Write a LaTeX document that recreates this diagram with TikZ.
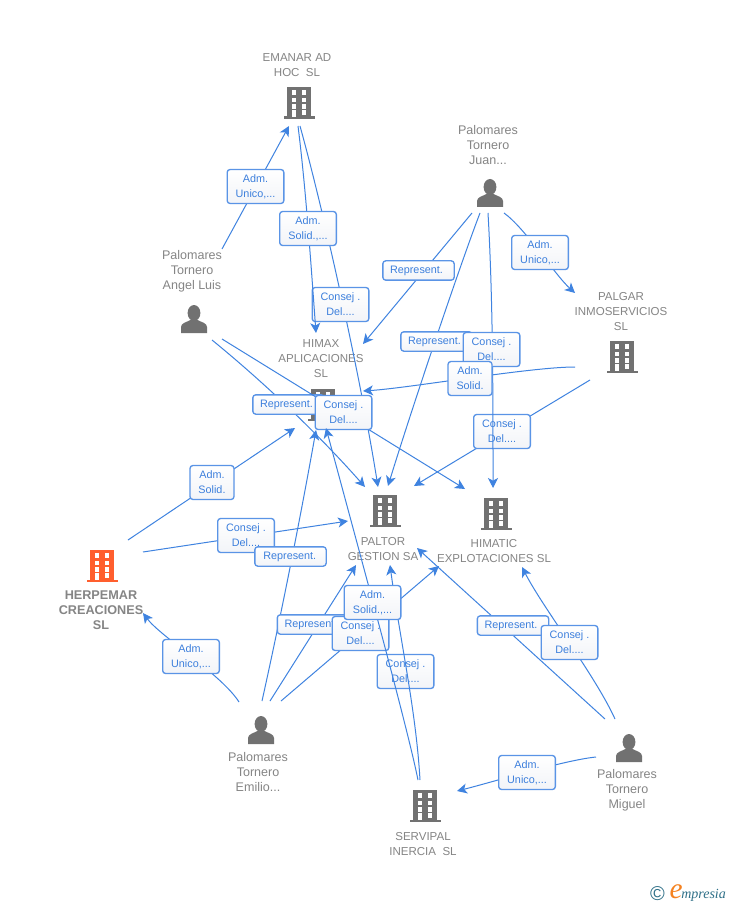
\documentclass[tikz,border=0pt]{standalone}
\usepackage{fontspec}
\setmainfont{Liberation Sans}
\newfontfamily\logoserif{Liberation Serif}
\usetikzlibrary{arrows.meta}
\definecolor{linkblue}{HTML}{3F83E0}
\definecolor{boxedge}{HTML}{5A94E6}
\definecolor{labtext}{HTML}{3C7FDC}
\definecolor{boxlow}{HTML}{F2F4F8}
\definecolor{entgrey}{HTML}{858585}
\definecolor{icongrey}{HTML}{717171}
\definecolor{hiorange}{HTML}{FF5F2E}
\definecolor{logoteal}{HTML}{2F7088}
\definecolor{logoorange}{HTML}{F58220}
\tikzset{
  x=0.75pt,y=-0.75pt,
  link/.style={draw=linkblue,line width=0.75pt,-{Stealth[length=7.5pt,width=7.5pt,inset=2pt]}},
  lab/.style={draw=boxedge,line width=1pt,rounded corners=2.2pt,top color=white,bottom color=boxlow,
    text=labtext,font=\fontsize{8.1}{11.25}\selectfont,align=center,inner sep=0pt,minimum width=#1},
  labA/.style={lab=42.5pt,minimum height=25.5pt},
  labS/.style={lab=33pt,minimum height=25.5pt},
  labR/.style={lab=53.5pt,minimum height=14.5pt},
  ent/.style={text=entgrey,font=\fontsize{8.65}{11.25}\selectfont,align=center,inner sep=0pt},
  entb/.style={text=entgrey,font=\bfseries\fontsize{9.5}{11.25}\selectfont,align=center,inner sep=0pt},
  pers/.style={text=entgrey,font=\fontsize{9.4}{11.25}\selectfont,align=center,inner sep=0pt},
  pics/bld/.style={code={
    \fill[#1] (-12,-16) rectangle (12,14);
    \fill[#1] (-15.5,13.5) rectangle (15.5,16);
    \foreach \yy/\zz in {-12.7/-8.3,-5.3/-1,1.3/5.7}{
      \fill[white] (-7.3,\yy) rectangle (-2.7,\zz);
      \fill[white] (2.7,\yy) rectangle (7.3,\zz);
    }
    \fill[white] (-7.3,7.3) rectangle (-2.7,14);
    \fill[white] (2.7,7.3) rectangle (7.3,12);
  }},
  pics/man/.style={code={
    \fill[icongrey] (0,-6) ellipse [x radius=4.8pt,y radius=6pt];
    \fill[icongrey] (-13,14) -- (-13,8) .. controls (-13,4) and (-7,3) .. (-3.5,1) -- (3.5,1)
      .. controls (7,3) and (13,4) .. (13,8) -- (13,14) -- cycle;
  }},
}
\begin{document}
\begin{tikzpicture}
\useasboundingbox (0,0) rectangle (728,905);
\fill[white] (0,0) rectangle (728,905);

% icons
\pic at (299,103) {bld=icongrey};
\pic at (622,357) {bld=icongrey};
\pic at (323,405) {bld=icongrey};
\pic at (385,511) {bld=icongrey};
\pic at (496,514) {bld=icongrey};
\pic at (102,566) {bld=hiorange};
\pic at (425,806) {bld=icongrey};
\pic at (490,193) {man};
\pic at (194,319) {man};
\pic at (261,730) {man};
\pic at (629,748) {man};

% entity names
\node[ent] (emanar) at (297,65) {EMANAR AD\\HOC\ \ SL};
\node[pers] (juan) at (488,145) {Palomares\\Tornero\\Juan...};
\node[pers] (angel) at (192,271) {Palomares\\Tornero\\Angel Luis};
\node[ent] (himax) at (321,359) {HIMAX\\APLICACIONES\\SL};
\node[ent] (palgar) at (621,311.5) {PALGAR\\INMOSERVICIOS\\SL};
\node[ent] (paltor) at (383,549) {PALTOR\\GESTION SA};
\node[ent] (himatic) at (494,551) {HIMATIC\\EXPLOTACIONES SL};
\node[entb] (herpemar) at (101,610.5) {HERPEMAR\\CREACIONES\\SL};
\node[pers] (emilio) at (258,772) {Palomares\\Tornero\\Emilio...};
\node[pers] (miguel) at (627,790) {Palomares\\Tornero\\Miguel};
\node[ent] (servipal) at (423,844) {SERVIPAL\\INERCIA\ \ SL};

% connector ends
\coordinate (emA) at (289,126); \coordinate (emB) at (298,126); \coordinate (emC) at (300,126);
\coordinate (anA) at (222,249); \coordinate (anB) at (212,340); \coordinate (anC) at (222,339);
\coordinate (hxN) at (316,333); \coordinate (hxE) at (363,344); \coordinate (hxR) at (363,391);
\coordinate (hxL) at (295,428); \coordinate (hxS) at (316,430); \coordinate (hxT) at (326,428);
\coordinate (juA) at (472,213); \coordinate (juB) at (480,213); \coordinate (juC) at (488,213); \coordinate (juD) at (504,213);
\coordinate (pgN) at (575,293); \coordinate (pgA) at (575,367); \coordinate (pgB) at (590,380);
\coordinate (ptA) at (365,487); \coordinate (ptB) at (378,487); \coordinate (ptC) at (388,486); \coordinate (ptD) at (414,486);
\coordinate (ptL) at (348,521); \coordinate (ptE) at (356,565); \coordinate (ptF) at (390,565); \coordinate (ptG) at (417,548);
\coordinate (hmA) at (465,489); \coordinate (hmB) at (493,488); \coordinate (hmC) at (439,566); \coordinate (hmD) at (522,567);
\coordinate (heA) at (128,540); \coordinate (heB) at (143,552); \coordinate (heC) at (143,613);
\coordinate (eiA) at (239,702); \coordinate (eiB) at (262,701); \coordinate (eiC) at (270,701); \coordinate (eiD) at (281,701);
\coordinate (miA) at (605,719); \coordinate (miB) at (615,719); \coordinate (miC) at (596,757);
\coordinate (seA) at (418,780); \coordinate (seB) at (420,780); \coordinate (seC) at (457,791);

% connectors and their labels, in stacking order
\draw[link] (anA) -- (emA);
\node[labA] (l1) at (255.5,186.5) {Adm.\\Unico,...};

\draw[link] (emC) .. controls (326,220) and (362,386) .. (ptB);
\node[labA] (l3) at (340.5,304.5) {Consej .\\Del....};

\draw[link] (emB) .. controls (306,190) and (311,265) .. (hxN);
\node[labA] (l2) at (308,228.5) {Adm.\\Solid.,...};

\draw[link] (juD) .. controls (525,228) and (555,275) .. (pgN);
\node[labA] (l8) at (540,252.5) {Adm.\\Unico,...};

\draw[link] (juA) -- (hxE);
\node[labR] (l5) at (418.5,270.5) {Represent.\hspace{3pt}};

\draw[link] (pgB) -- (ptD);
\node[labA] (l10) at (502,431.5) {Consej .\\Del....};

\draw[link] (juB) .. controls (460,265) and (411,411) .. (ptC);
\node[labR] (l6) at (436.5,341.5) {Represent.\hspace{3pt}};

\draw[link] (juC) .. controls (493,300) and (493,397) .. (hmB);
\node[labA] (l7) at (491.5,349.5) {Consej .\\Del....};

\draw[link] (pgA) .. controls (530,367) and (410,388) .. (hxR);
\node[labS] (l9) at (470,378.5) {Adm.\\Solid.};

\draw[link] (anB) .. controls (255,375) and (312,427) .. (ptA);
\node[labR] (l4) at (288.5,404.5) {Represent.\hspace{3pt}};

\draw[link] (anC) -- (hmA);
\node[labA] (l4b) at (343.5,412.5) {Consej .\\Del....};

\draw[link] (heA) -- (hxL);
\node[labS] (l11) at (212,482.5) {Adm.\\Solid.};

\draw[link] (heB) -- (ptL);
\node[labA] (l12) at (246,535.5) {Consej .\\Del....};

\draw[link] (eiA) .. controls (222,675) and (160,636) .. (heC);
\node[labA] (l13) at (191,656.5) {Adm.\\Unico,...};

\draw[link] (eiB) .. controls (280,620) and (300,520) .. (hxS);
\node[labR] (l14) at (290.5,556.5) {Represent.\hspace{1pt}};

\draw[link] (eiC) -- (ptE);
\node[labR] (l15) at (313,624.5) {Represent.\hspace{3pt}};

\draw[link] (eiD) -- (hmC);
\node[labA] (l16) at (360.5,633.5) {Consej .\\Del....};

\node[labA] (l17) at (405.5,671.5) {Consej .\\Del....};
\draw[link] (seB) .. controls (416,710) and (400,640) .. (ptF);

\draw[link] (seA) .. controls (408,730) and (367,580) .. (hxT);
\node[labA] (l18) at (372.5,602.5) {Adm.\\Solid.,...};

\draw[link] (miA) -- (ptG);
\node[labR] (l19) at (513,625.5) {Represent.\hspace{3pt}};

\draw[link] (miB) .. controls (595,675) and (543,608) .. (hmD);
\node[labA] (l20) at (569.5,642.5) {Consej .\\Del....};

\draw[link] (miC) .. controls (565,760) and (489,783) .. (seC);
\node[labA] (l21) at (527,772.5) {Adm.\\Unico,...};

% logo
\node[text=logoteal,font=\fontsize{15}{15}\selectfont,inner sep=0pt] (logoc) at (657.5,894) {©};
\node[text=logoorange,font=\logoserif\itshape\fontsize{22}{22}\selectfont,inner sep=0pt] (logoe) at (676,892) {e};
\node[text=logoteal,font=\logoserif\itshape\fontsize{10.5}{12}\selectfont,inner sep=0pt,anchor=west] (logot) at (681,895.5) {mpresia};
\end{tikzpicture}
\end{document}
